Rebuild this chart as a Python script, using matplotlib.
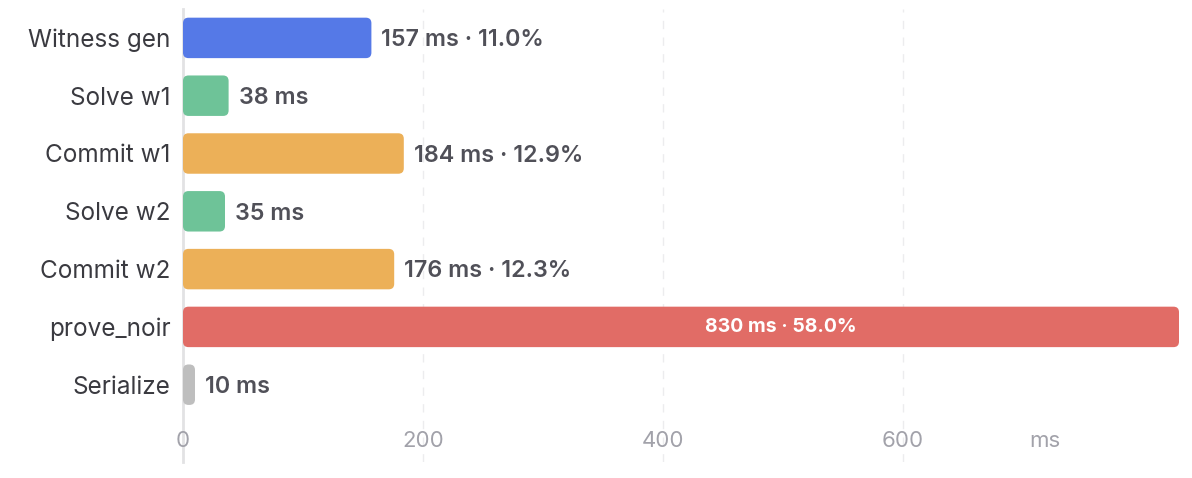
import matplotlib
matplotlib.use("Agg")
import matplotlib.pyplot as plt
from matplotlib.patches import FancyBboxPatch
from matplotlib.transforms import blended_transform_factory

plt.rcParams['font.family'] = ['Inter', 'DejaVu Sans']

categories = ["Witness gen", "Solve w1", "Commit w1", "Solve w2", "Commit w2", "prove_noir", "Serialize"]
values_ms = [157, 38, 184, 35, 176, 830, 10]
bar_colors = ["#5579E7", "#6EC398", "#ECB058", "#6EC398", "#ECB058", "#E16C66", "#BEBEBE"]
x_ticks = [0, 200, 400, 600]
x_unit = "ms"
x_max = 830

W, H = 1192, 478
fig = plt.figure(figsize=(W / 100, H / 100), dpi=100)
ax_left, ax_right = 183 / W, 1179 / W
ax_top, ax_bot = 1 - 9 / H, 1 - 462 / H
ax = fig.add_axes([ax_left, ax_bot, ax_right - ax_left, ax_top - ax_bot])

n = len(categories)
row_px = 57.8
bottom_extra = (462 - 9) / row_px - n
ax.set_xlim(0, x_max)
ax.set_ylim(n - 0.5 + bottom_extra, -0.5)

px_per_x = (1179 - 183) / x_max
bar_h = 0.70
rad_px = 5.5
rad_x = rad_px / px_per_x
aspect = (rad_px / row_px) / rad_x

total = sum(values_ms)
for i, (cat, v, c) in enumerate(zip(categories, values_ms, bar_colors)):
    r = min(rad_x, v / 2)
    p = FancyBboxPatch((0, i - bar_h / 2), v, bar_h,
                       boxstyle=f"round,pad=0,rounding_size={r}",
                       mutation_aspect=aspect, facecolor=c, edgecolor="none", zorder=3)
    ax.add_patch(p)
    pct = v / total * 100
    label = f"{v} ms · {pct:.1f}%" if pct >= 5 else f"{v} ms"
    if v > x_max * 0.5:
        ax.text(v * 0.6, i, label, ha="center", va="center", color="white",
                fontsize=14, fontweight="bold", zorder=4)
    else:
        ax.text(v + 10 / px_per_x, i + 0.04, label, ha="left", va="center", color="#505058",
                fontsize=16.8, fontweight="semibold", zorder=4)

ax.set_yticks(range(n))
ax.set_yticklabels(categories, fontsize=17.5, color="#3a3a40")
ax.tick_params(axis="y", length=0, pad=9)
ax.set_xticks(x_ticks)
ax.set_xticklabels([])
ax.tick_params(axis="x", length=0)

for s in ["top", "right", "bottom"]:
    ax.spines[s].set_visible(False)
ax.spines["left"].set_color("#e2e2e4")
ax.spines["left"].set_linewidth(2)
ax.spines["left"].set_zorder(2)

for xt in x_ticks[1:]:
    ax.axvline(xt, color="#ececee", lw=1, ls=(0, (6, 6)), zorder=1)

trans = blended_transform_factory(ax.transData, ax.transAxes)
label_y = 1 - (441 - 9) / (462 - 9)
for xt in x_ticks:
    ax.text(xt, label_y, str(xt), transform=trans, ha="center", va="center",
            fontsize=16, color="#a2a2aa")
ax.text(718, label_y, x_unit, transform=trans, ha="center", va="center",
        fontsize=16, color="#a2a2aa")

fig.savefig("out.png", dpi=100, facecolor="white")
